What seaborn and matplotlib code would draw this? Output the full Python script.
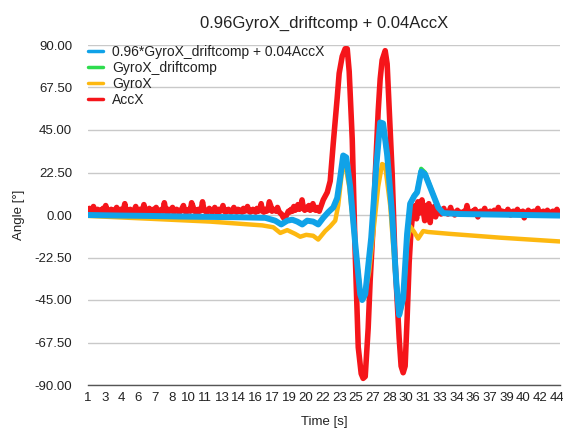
import numpy as np
import pandas as pd
import matplotlib
matplotlib.use("Agg")
import matplotlib.pyplot as plt
import seaborn as sns

# ---------------- data ----------------
tick_labels = ["1", "3", "4", "6", "7", "8", "10", "11", "13", "14", "16", "17", "19", "20",
               "22", "23", "25", "27", "28", "30", "31", "33", "34", "36", "37", "39", "40",
               "42", "44"]

blue_t = [1.0, 3.98, 6.72, 9.47, 12.22, 14.97, 17.26, 18.17, 18.72, 19.27, 19.73, 20.19,
          20.65, 21.10, 21.65, 22.11, 22.57, 23.03, 23.49, 23.85, 24.13, 24.40, 24.68, 25.04,
          25.50, 25.96, 26.14, 26.42, 26.97, 27.42, 27.79, 28.06, 28.43, 28.89, 29.26, 29.53,
          29.90, 30.26, 30.54, 30.91, 31.18, 31.55, 31.91, 32.56, 33.11, 33.57, 35.12, 38.79,
          44.25]
blue_v = [0.0, -0.3, -0.5, -0.8, -1.0, -1.2, -1.5, -3.0, -5.0, -3.0, -2.5, -3.5,
          -5.0, -3.0, -3.5, -5.0, -1.5, 1.5, 4.0, 9.0, 20.0, 31.5, 30.5, 15.0,
          -15.0, -42.0, -45.0, -42.0, -12.0, 25.0, 49.0, 48.5, 32.0, 0.0, -35.0, -53.0,
          -44.0, -10.0, 6.0, 10.0, 12.0, 23.0, 21.5, 12.0, 4.0, 1.0, 0.5, 0.2,
          -0.3]

green_t = blue_t
green_v = [0.0, -0.3, -0.5, -0.8, -1.0, -1.2, -1.5, -3.0, -5.0, -3.0, -2.5, -3.5,
           -5.0, -3.0, -3.5, -5.0, -1.5, 1.2, 3.5, 8.0, 18.0, 30.0, 28.5, 13.5,
           -14.5, -40.0, -43.5, -41.0, -11.5, 24.0, 48.0, 47.0, 31.0, 0.0, -33.5, -51.5,
           -43.5, -10.5, 6.2, 10.5, 12.5, 24.5, 22.5, 12.5, 4.2, 1.0, 0.5, 0.2,
           -0.3]

yellow_t = [1.0, 6.72, 12.22, 16.98, 17.99, 18.63, 19.27, 20.00, 20.46, 21.01, 21.65, 22.11,
            22.75, 23.21, 23.67, 23.94, 24.31, 24.58, 24.95, 25.50, 25.96, 26.32, 26.78,
            27.24, 27.61, 27.97, 28.25, 28.71, 29.16, 29.62, 29.90, 30.26, 30.54, 30.91,
            31.27, 31.73, 32.19, 34.21, 38.79, 44.25]
yellow_v = [-0.5, -2.0, -3.5, -5.5, -6.5, -9.5, -8.0, -10.0, -11.5, -10.5, -11.0, -13.0,
            -8.5, -6.0, -3.0, 5.0, 24.0, 27.0, 15.0, -15.0, -40.0, -44.0, -30.0,
            -5.0, 15.0, 27.0, 26.0, 5.0, -30.0, -52.0, -45.0, -15.0, -6.0, -9.0,
            -12.5, -8.5, -9.0, -10.0, -12.0, -14.0]

# AccX before the motion (samples every 0.125 s from t = 1.0)
acc_pre = [
    2.0, 3.5, 1.5, 2.5, 4.5, 2.0, 1.5, 3.0, 2.0, 2.5, 1.0, 3.5, 2.0, 5.0, 2.5, 1.5, 2.0,
    3.0, 1.5, 2.5, 2.0, 4.0, 1.5, 2.0, 3.0, 1.5, 2.5, 6.0, 2.0, 1.5, 2.5, 3.0, 1.5, 2.0,
    2.5, 4.5, 2.0, 1.5, 3.0, 2.0, 2.5, 5.5, 2.0, 1.5, 2.5, 3.5, 2.0, 1.5, 3.0, 2.0, 4.0,
    2.0, 1.5, 2.5, 3.0, 2.0, 6.5, 2.5, 1.5, 3.0, 2.0, 2.5, 4.0, 1.5, 2.0, 3.0, 2.5, 1.5,
    2.0, 3.5, 5.0, 2.0, 1.5, 2.5, 3.0, 2.0, 6.5, 4.5, 2.0, 2.5, 1.5, 3.0, 2.0, 2.5, 7.0,
    3.0, 2.0, 1.5, 2.5, 3.5, 2.0, 1.5, 2.0, 4.0, 2.5, 1.5, 3.0, 2.0, 2.5, 5.0, 2.0, 1.5,
    2.5, 3.0, 2.0, 1.5, 2.5, 4.0, 2.0, 1.5, 3.0, 2.0, 2.5, 1.5, 3.5, 2.0, 2.5, 4.5, 2.0,
    1.5, 2.5, 3.0, 2.0, 1.5, 3.5, 2.0, 2.5, 6.0, 2.0, 1.5, 3.0, 2.0, 2.5, 7.0, 5.0, 2.0,
    3.0, 2.5, 2.0, 4.0, 2.0, 1.0, 0.5, -1.0, -2.0, -1.0, 0.5, 2.0, 1.5, 3.0, 2.0, 4.5, 2.5,
    3.5, 5.5, 3.0, 4.0, 8.0, 3.5, 2.5, 4.0, 3.0, 5.0, 2.5, 3.5, 6.0, 3.0, 2.5, 4.0, 3.0]
# AccX during the motion
acc_mid_t = [22.20, 22.57, 22.94, 23.21, 23.49, 23.85, 24.03, 24.31, 24.58, 24.77, 24.95,
             25.23, 25.50, 25.78, 26.05, 26.23, 26.42, 26.69, 26.87, 27.15, 27.33, 27.61,
             27.79, 27.97, 28.25, 28.43, 28.71, 28.89, 29.16, 29.35, 29.53, 29.71, 29.90,
             30.08, 30.26, 30.45, 30.62, 30.75]
acc_mid_v = [2.0, 8.0, 12.0, 18.0, 38.0, 62.0, 75.0, 84.0, 88.0, 88.0, 76.0,
             40.0, -20.0, -70.0, -84.0, -86.5, -85.5, -60.0, -35.0, -5.0, 20.0, 55.0,
             72.0, 82.0, 87.0, 80.0, 45.0, 22.0, -25.0, -45.0, -65.0, -80.0, -83.5,
             -80.0, -55.0, -25.0, -8.0, -1.0]
# AccX after the motion (samples every 0.125 s from t = 30.875)
acc_post = [
    2.0, 5.0, -2.0, 7.0, 1.0, 4.0, 8.0, 2.0, -3.0, 5.0, 0.0, 6.0, -4.0, 3.0, 1.0, 4.5, -1.0, 3.0,
    1.0, 2.5, 0.5, 1.5, 3.5, 1.0, 1.5, 0.5, 2.0, 4.0, 1.0, 1.5, 0.0, 1.5, 2.5, 1.0, 1.5, 0.5,
    1.5, 2.0, 1.0, 5.0, 1.5, 0.5, 1.0, 2.0, 1.5, 3.0, 1.0, -1.0, 1.5, 2.0, 1.0, 1.5, 3.5, 1.0,
    0.5, 1.5, 2.0, 1.0, 1.5, 2.5, 0.5, 1.0, 4.0, 1.5, 1.0, 2.0, 0.5, 1.5, 1.0, 3.0, 1.5, 0.0,
    1.5, 2.0, 1.0, 1.5, 3.0, 1.0, 0.5, 1.5, 2.0, -1.5, 1.0, 1.5, 2.5, 1.0, 1.5, 0.5, 2.0, 1.0,
    1.5, 3.5, 1.0, 0.5, 1.5, 2.0, 1.0, 1.5, 2.5, 1.0, 0.5, 1.5, 2.0, 1.0, 1.5, 3.0, 1.0, 1.5]

acc_t = list(1.0 + 0.125 * np.arange(len(acc_pre))) + acc_mid_t + \
        list(30.875 + 0.125 * np.arange(len(acc_post)))
acc_v = acc_pre + acc_mid_v + acc_post

# ---------------- styling ----------------
sns.set_theme(style="white")
plt.rcParams["font.family"] = ["Liberation Sans", "DejaVu Sans"]

C_BLUE = "#10A2E8"
C_GREEN = "#2EDC4E"
C_YELLOW = "#FDB810"
C_RED = "#F5151A"
TXT = "#222222"

fig = plt.figure(figsize=(5.63, 4.33), dpi=100)
ax = fig.add_axes([88 / 563, 48 / 433, (560 - 88) / 563, (385 - 45) / 433])

sns.lineplot(x=acc_t, y=acc_v, ax=ax, color=C_RED, lw=4.0, label="AccX", zorder=2)
sns.lineplot(x=yellow_t, y=yellow_v, ax=ax, color=C_YELLOW, lw=3.2, label="GyroX", zorder=3)
sns.lineplot(x=green_t, y=green_v, ax=ax, color=C_GREEN, lw=3.0, label="GyroX_driftcomp", zorder=4)
sns.lineplot(x=blue_t, y=blue_v, ax=ax, color=C_BLUE, lw=4.3,
             label="0.96*GyroX_driftcomp + 0.04AccX", zorder=5)

ax.set_xlim(1, 44.28)
ax.set_ylim(-90, 90)
yt = np.arange(-90, 90.1, 22.5)
ax.set_yticks(yt)
ax.set_yticklabels([f"{v:.2f}" for v in yt])
ax.set_xticks(np.linspace(1, 44, len(tick_labels)))
ax.set_xticklabels(tick_labels)

ax.grid(axis="y", color="#c9c9c9", lw=1.0, zorder=0)
ax.grid(axis="x", visible=False)
for s in ["left", "right", "top"]:
    ax.spines[s].set_visible(False)
ax.spines["bottom"].set_color("#555555")
ax.spines["bottom"].set_linewidth(1.0)
ax.spines["bottom"].set_zorder(6)
ax.tick_params(axis="both", length=0, labelsize=9.5, colors=TXT)
ax.tick_params(axis="y", pad=11.5)
ax.tick_params(axis="x", pad=5)

ax.set_xlabel("Time [s]", fontsize=9.5, color=TXT, labelpad=9)
ax.set_ylabel("Angle [°]", fontsize=9.5, color=TXT, labelpad=7)
ax.set_title("0.96GyroX_driftcomp + 0.04AccX", fontsize=12, color=TXT, pad=12)

h, l = ax.get_legend_handles_labels()
order = [3, 2, 1, 0]
leg = ax.legend([h[i] for i in order], [l[i] for i in order], loc="upper left",
                bbox_to_anchor=(-0.003, 1.005), frameon=False, fontsize=10,
                handlelength=1.08, handletextpad=0.65, labelspacing=0.15,
                borderaxespad=0.0, borderpad=0.1)
for line in leg.get_lines():
    line.set_linewidth(2.5)
for t in leg.get_texts():
    t.set_color(TXT)

fig.savefig("out.png", dpi=100)
